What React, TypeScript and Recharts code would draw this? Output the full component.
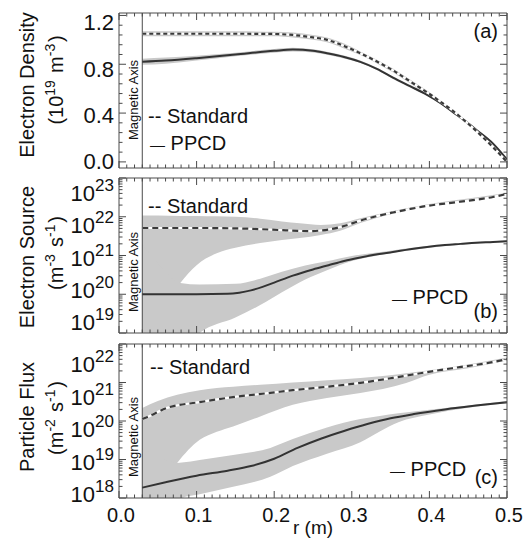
import React from 'react'
import { ComposedChart, Line, Area, XAxis, YAxis, ReferenceLine } from 'recharts'

const FONT = '"Liberation Sans", Arial, Helvetica, sans-serif'
const INK = '#111111'
const FRAME = '#4a4a4a'
const BAND = '#c9c9c9'
const DARK = '#333333'

// r (m) axis
const rMajors = [0, 0.1, 0.2, 0.3, 0.4, 0.5]
const rTicks = Array.from({ length: 51 }, (_, i) => +(i * 0.01).toFixed(2))
const magAxisR = 0.03

// (a) electron density, 10^19 m^-3
const rA = [0.03, 0.06, 0.1, 0.15, 0.2, 0.224, 0.25, 0.268, 0.29, 0.311, 0.333, 0.353, 0.375, 0.397, 0.415, 0.43, 0.445, 0.461, 0.482, 0.5]
const stdA = [1.05, 1.05, 1.05, 1.05, 1.048, 1.04, 1.02, 1.0, 0.95, 0.89, 0.82, 0.75, 0.66, 0.57, 0.49, 0.42, 0.34, 0.25, 0.12, 0.0]
const stdALo = [1.03, 1.03, 1.03, 1.03, 1.03, 1.02, 1.0, 0.98, 0.93, 0.875, 0.805, 0.735, 0.645, 0.555, 0.48, 0.41, 0.33, 0.24, 0.11, 0.0]
const stdAHi = [1.07, 1.07, 1.07, 1.07, 1.066, 1.06, 1.04, 1.02, 0.97, 0.905, 0.835, 0.765, 0.675, 0.585, 0.5, 0.43, 0.35, 0.26, 0.13, 0.01]
const ppcdA = [0.82, 0.83, 0.85, 0.88, 0.91, 0.92, 0.91, 0.89, 0.86, 0.82, 0.76, 0.69, 0.62, 0.55, 0.48, 0.41, 0.34, 0.26, 0.15, 0.02]
const ppcdALo = [0.795, 0.805, 0.83, 0.865, 0.895, 0.905, 0.897, 0.877, 0.848, 0.81, 0.75, 0.68, 0.61, 0.54, 0.47, 0.4, 0.33, 0.25, 0.14, 0.0]
const ppcdAHi = [0.845, 0.855, 0.87, 0.895, 0.925, 0.935, 0.923, 0.903, 0.872, 0.83, 0.77, 0.7, 0.63, 0.56, 0.49, 0.42, 0.35, 0.27, 0.16, 0.03]
const densTicks = Array.from({ length: 16 }, (_, i) => +(i * 0.08).toFixed(2))
const densMajors = [0, 0.4, 0.8, 1.2]

// (b) electron source, log10 (m^-3 s^-1)
const rStdB = [0.03, 0.1, 0.15, 0.182, 0.215, 0.245, 0.27, 0.29, 0.311, 0.333, 0.353, 0.375, 0.397, 0.42, 0.44, 0.46, 0.482, 0.5]
const stdB = [21.71, 21.71, 21.7, 21.68, 21.65, 21.63, 21.67, 21.76, 21.9, 22.02, 22.11, 22.2, 22.28, 22.34, 22.39, 22.44, 22.51, 22.59]
const rStdBandB = [0.03, 0.05, 0.079, 0.1, 0.126, 0.15, 0.182, 0.21, 0.233, 0.26, 0.285, 0.311, 0.353, 0.4, 0.45, 0.5]
const stdBLo = [18.5, 19.4, 20.29, 20.75, 21.06, 21.2, 21.32, 21.4, 21.45, 21.53, 21.64, 21.84, 22.08, 22.28, 22.42, 22.56]
const stdBHi = [22.03, 22.03, 22.02, 22.02, 22.01, 22.0, 21.95, 21.88, 21.83, 21.79, 21.83, 21.96, 22.15, 22.33, 22.47, 22.62]
const rPpcdB = [0.03, 0.1, 0.14, 0.155, 0.17, 0.185, 0.2, 0.224, 0.25, 0.27, 0.29, 0.311, 0.333, 0.353, 0.375, 0.397, 0.42, 0.44, 0.46, 0.482, 0.5]
const ppcdB = [20.0, 20.0, 20.01, 20.04, 20.1, 20.19, 20.3, 20.48, 20.64, 20.75, 20.86, 20.95, 21.03, 21.09, 21.16, 21.22, 21.27, 21.3, 21.33, 21.35, 21.37]
const rPpcdBandB = [0.03, 0.05, 0.079, 0.104, 0.15, 0.182, 0.21, 0.24, 0.268, 0.3, 0.33, 0.4, 0.5]
const ppcdBLo = [17.5, 17.9, 18.5, 19.0, 19.4, 19.72, 20.05, 20.38, 20.62, 20.86, 20.99, 21.2, 21.35]
const ppcdBHi = [21.3, 20.8, 20.29, 20.25, 20.27, 20.4, 20.58, 20.74, 20.85, 20.99, 21.07, 21.25, 21.39]

// (c) particle flux, log10 (m^-2 s^-1)
const rStdC = [0.03, 0.036, 0.062, 0.104, 0.147, 0.195, 0.224, 0.268, 0.311, 0.353, 0.397, 0.439, 0.482, 0.5]
const stdC = [20.05, 20.1, 20.34, 20.49, 20.62, 20.73, 20.8, 20.89, 20.99, 21.12, 21.27, 21.4, 21.53, 21.61]
const rStdBandC = [0.03, 0.05, 0.075, 0.104, 0.126, 0.147, 0.182, 0.224, 0.268, 0.311, 0.34, 0.37, 0.4, 0.45, 0.5]
const stdCLo = [17.5, 18.2, 18.91, 19.51, 19.72, 19.86, 20.12, 20.42, 20.6, 20.73, 20.83, 20.99, 21.2, 21.37, 21.57]
const stdCHi = [20.34, 20.52, 20.68, 20.8, 20.86, 20.89, 20.94, 21.0, 21.06, 21.12, 21.17, 21.24, 21.32, 21.47, 21.65]
const rPpcdC = [0.03, 0.06, 0.1, 0.14, 0.17, 0.2, 0.23, 0.26, 0.29, 0.32, 0.35, 0.38, 0.42, 0.46, 0.5]
const ppcdC = [18.27, 18.41, 18.58, 18.71, 18.83, 19.02, 19.3, 19.54, 19.74, 19.92, 20.07, 20.18, 20.3, 20.4, 20.49]
const rPpcdBandC = [0.03, 0.05, 0.075, 0.081, 0.104, 0.147, 0.195, 0.224, 0.268, 0.311, 0.336, 0.36, 0.4, 0.5]
const ppcdCLo = [17.3, 17.6, 17.9, 18.0, 18.1, 18.29, 18.55, 18.83, 19.15, 19.45, 19.73, 19.97, 20.17, 20.46]
const ppcdCHi = [19.3, 19.1, 18.91, 18.92, 18.99, 19.12, 19.3, 19.53, 19.83, 20.05, 20.13, 20.2, 20.29, 20.52]

const toVal = (v: number, log: boolean) => (log ? 10 ** v : v)
const line = (r: number[], v: number[], log: boolean) => r.map((x, i) => ({ r: x, v: toVal(v[i], log) }))
const band = (r: number[], lo: number[], hi: number[], log: boolean) =>
  r.map((x, i) => ({ r: x, v: [toVal(lo[i], log), toVal(hi[i], log)] }))

const logTicks = (lo: number, hi: number) => {
  const t: number[] = []
  for (let e = lo; e < hi; e++) for (let k = 1; k < 10; k++) t.push(k * 10 ** e)
  t.push(10 ** hi)
  return t
}
const isDecade = (v: number) => Math.abs(Math.log10(v) - Math.round(Math.log10(v))) < 1e-6
const isRMajor = (v: number) => rMajors.some(m => Math.abs(m - v) < 1e-6)

type PanelProps = {
  top: number
  height: number
  bottomHeight: number
  marginBottom: number
  log: boolean
  domain: [number, number]
  yTicks: number[]
  isMajorY: (v: number) => boolean
  yLabel: (v: number) => React.ReactNode
  labelShift: [number, number]
  showX: boolean
  dash: string
  std: { r: number; v: number }[]
  stdBand: { r: number; v: number[] }[]
  ppcd: { r: number; v: number }[]
  ppcdBand: { r: number; v: number[] }[]
}

function Panel(p: PanelProps) {
  const frac = (v: number) =>
    p.log
      ? (Math.log10(v) - Math.log10(p.domain[0])) / (Math.log10(p.domain[1]) - Math.log10(p.domain[0]))
      : (v - p.domain[0]) / (p.domain[1] - p.domain[0])

  const leftTick = (t: any) => {
    const v = t.payload.value
    const major = p.isMajorY(v)
    const cy = t.y + p.labelShift[0] + (p.labelShift[1] - p.labelShift[0]) * frac(v)
    return (
      <g>
        <line x1={t.x} y1={t.y} x2={t.x + (major ? 7 : 3.5)} y2={t.y} stroke={FRAME} />
        {major && (
          <text x={t.x - 5} y={cy + 8} textAnchor="end" fontFamily={FONT} fontSize={22} fill={INK}>
            {p.yLabel(v)}
          </text>
        )}
      </g>
    )
  }
  const rightTick = (t: any) => {
    const major = p.isMajorY(t.payload.value)
    return <line x1={t.x} y1={t.y} x2={t.x - (major ? 7 : 3.5)} y2={t.y} stroke={FRAME} />
  }
  const topTick = (t: any) => {
    const major = isRMajor(t.payload.value)
    return <line x1={t.x} y1={t.y} x2={t.x} y2={t.y + (major ? 7 : 3.5)} stroke={FRAME} />
  }
  const bottomTick = (t: any) => {
    const v = t.payload.value
    const major = isRMajor(v)
    return (
      <g>
        <line x1={t.x} y1={t.y} x2={t.x} y2={t.y - (major ? 7 : 3.5)} stroke={FRAME} />
        {major && p.showX && (
          <text x={t.x + 2} y={t.y + 24} textAnchor="middle" fontFamily={FONT} fontSize={20} fill={INK}>
            {v.toFixed(1)}
          </text>
        )}
      </g>
    )
  }

  const ax = { xAxisId: 'b', yAxisId: 'l', isAnimationActive: false }

  return (
    <div style={{ position: 'absolute', left: 0, top: p.top }}>
      <ComposedChart width={531} height={p.height} margin={{ top: 3, right: 14, bottom: p.marginBottom, left: 59 }}>
        <XAxis xAxisId="b" dataKey="r" type="number" domain={[0, 0.5]} allowDataOverflow ticks={rTicks} interval={0}
          tickLine={false} tickSize={0} tickMargin={0} tick={bottomTick} height={p.bottomHeight} axisLine={{ stroke: FRAME }} />
        <XAxis xAxisId="t" orientation="top" dataKey="r" type="number" domain={[0, 0.5]} allowDataOverflow ticks={rTicks} interval={0}
          tickLine={false} tickSize={0} tickMargin={0} tick={topTick} height={10} axisLine={{ stroke: FRAME }} />
        <YAxis yAxisId="l" type="number" scale={p.log ? 'log' : 'linear'} domain={p.domain} allowDataOverflow ticks={p.yTicks} interval={0}
          tickLine={false} tickSize={0} tickMargin={0} tick={leftTick} width={60} axisLine={{ stroke: FRAME }} />
        <YAxis yAxisId="r" orientation="right" type="number" scale={p.log ? 'log' : 'linear'} domain={p.domain} allowDataOverflow ticks={p.yTicks} interval={0}
          tickLine={false} tickSize={0} tickMargin={0} tick={rightTick} width={10} axisLine={{ stroke: FRAME }} />

        <Area {...ax} data={p.stdBand} dataKey="v" type="monotone" fill={BAND} fillOpacity={1} stroke="none" />
        <Area {...ax} data={p.ppcdBand} dataKey="v" type="monotone" fill={BAND} fillOpacity={1} stroke="none" />

        <ReferenceLine xAxisId="b" yAxisId="l" x={magAxisR} stroke={FRAME} strokeWidth={1} />

        <Line {...ax} data={p.ppcd} dataKey="v" type="monotone" stroke={DARK} strokeWidth={2} dot={false} />
        <Line {...ax} data={p.std} dataKey="v" type="monotone" stroke="#ffffff" strokeWidth={2.2} dot={false} />
        <Line {...ax} data={p.std} dataKey="v" type="monotone" stroke="#3a3a3a" strokeWidth={2.2} strokeDasharray={p.dash} dot={false} />
      </ComposedChart>
    </div>
  )
}

const Sup = ({ children, up = 8 }: { children: React.ReactNode; up?: number }) => (
  <>
    <tspan dy={-up} fontSize={14}>{children}</tspan>
    <tspan dy={up}>{'\u200a'}</tspan>
  </>
)

const VText = ({ x, y, size, children }: { x: number; y: number; size: number; children: React.ReactNode }) => (
  <text x={x} y={y} transform={`rotate(-90 ${x} ${y})`} textAnchor="middle" dy="0.35em" fontSize={size} fontFamily={FONT} fill={INK}>
    {children}
  </text>
)

const T = ({ x, y, anchor = 'start', size = 20, children }: { x: number; y: number; anchor?: string; size?: number; children: React.ReactNode }) => (
  <text x={x} y={y} textAnchor={anchor as any} fontSize={size} fontFamily={FONT} fill={INK}>
    {children}
  </text>
)

const logLabel = (v: number) => (
  <>
    10<tspan dy={-10} fontSize={17}>{Math.round(Math.log10(v))}</tspan>
  </>
)

const Dash = () => <tspan fontSize={15}>—</tspan>

export default function App() {
  return (
    <div style={{ position: 'absolute', left: 0, top: 0, width: 531, height: 542, background: '#fff', overflow: 'hidden' }}>
      <Panel top={0} height={178} bottomHeight={10} marginBottom={0} log={false} domain={[-0.05, 1.22]}
        yTicks={densTicks} isMajorY={v => densMajors.some(m => Math.abs(m - v) < 1e-6)} yLabel={v => v.toFixed(1)}
        labelShift={[-1, 7]} showX={false} dash="4 3"
        std={line(rA, stdA, false)} stdBand={band(rA, stdALo, stdAHi, false)}
        ppcd={line(rA, ppcdA, false)} ppcdBand={band(rA, ppcdALo, ppcdAHi, false)} />
      <Panel top={165} height={178} bottomHeight={10} marginBottom={0} log domain={[1e19, 1e23]}
        yTicks={logTicks(19, 23)} isMajorY={isDecade} yLabel={logLabel}
        labelShift={[-11, 15]} showX={false} dash="6 4"
        std={line(rStdB, stdB, true)} stdBand={band(rStdBandB, stdBLo, stdBHi, true)}
        ppcd={line(rPpcdB, ppcdB, true)} ppcdBand={band(rPpcdBandB, ppcdBLo, ppcdBHi, true)} />
      <Panel top={331} height={211} bottomHeight={40} marginBottom={4} log domain={[1e18, 1e22]}
        yTicks={logTicks(18, 22)} isMajorY={isDecade} yLabel={logLabel}
        labelShift={[-4, 20]} showX dash="6 4"
        std={line(rStdC, stdC, true)} stdBand={band(rStdBandC, stdCLo, stdCHi, true)}
        ppcd={line(rPpcdC, ppcdC, true)} ppcdBand={band(rPpcdBandC, ppcdCLo, ppcdCHi, true)} />

      <svg width={531} height={542} style={{ position: 'absolute', left: 0, top: 0, pointerEvents: 'none' }}>
        <VText x={27} y={85} size={20}>Electron Density</VText>
        <VText x={56} y={80} size={20}>(10<Sup>19</Sup> m<Sup>-3</Sup>)</VText>
        <VText x={27} y={257} size={20}>Electron Source</VText>
        <VText x={56} y={253} size={20}>(m<Sup>-3</Sup> s<Sup>-1</Sup>)</VText>
        <VText x={27} y={417} size={20}>Particle Flux</VText>
        <VText x={56} y={418} size={20}>(m<Sup>-2</Sup> s<Sup>-1</Sup>)</VText>

        <VText x={133} y={100} size={13}>Magnetic Axis</VText>
        <VText x={133} y={272} size={13}>Magnetic Axis</VText>
        <VText x={133} y={437} size={13}>Magnetic Axis</VText>

        <T x={148} y={123}>-- Standard</T>
        <T x={150} y={150}><Dash /> PPCD</T>
        <T x={498} y={38} anchor="end">(a)</T>

        <T x={148} y={213}>-- Standard</T>
        <T x={392} y={304}><Dash /> PPCD</T>
        <T x={498} y={318} anchor="end">(b)</T>

        <T x={150} y={374}>-- Standard</T>
        <T x={390} y={476}><Dash /> PPCD</T>
        <T x={498} y={484} anchor="end">(c)</T>

        <T x={313} y={534} anchor="middle" size={19}>r (m)</T>
      </svg>
    </div>
  )
}
